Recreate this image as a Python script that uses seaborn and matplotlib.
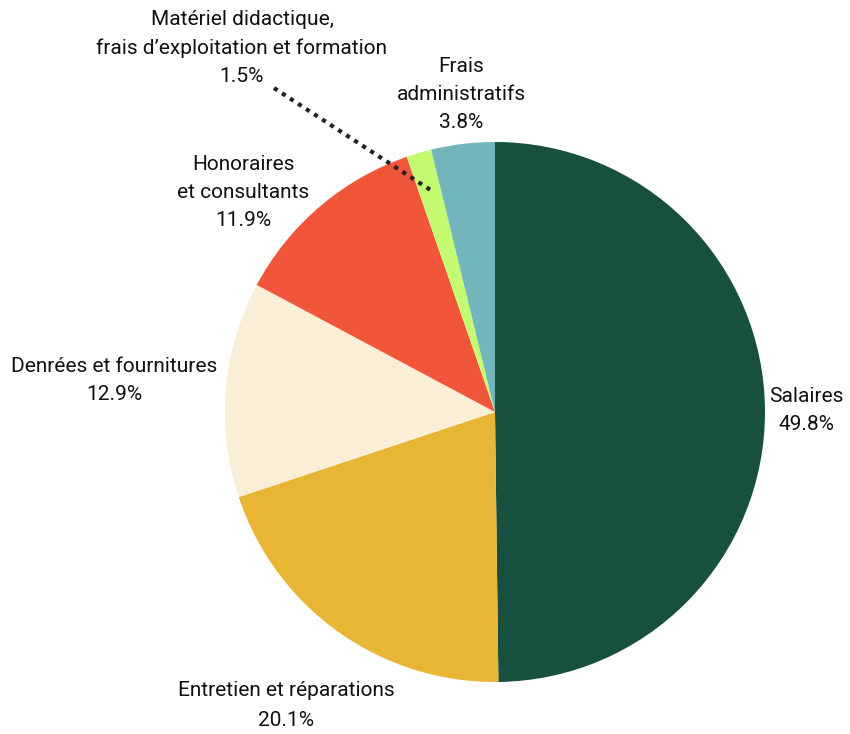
import seaborn as sns
from matplotlib import pyplot as plt

# data
categories = ['Salaires', 'Entretien et réparations', 'Denrées et fournitures',
              'Honoraires\net consultants',
              'Matériel didactique,\nfrais d\u2019exploitation et formation',
              'Frais\nadministratifs']
values = [49.8, 20.1, 12.9, 11.9, 1.5, 3.8]
colors = ['#17503E', '#E8B634', '#FAEED6', '#F1553A', '#C5FB70', '#72B5BB']

sns.set_theme(style='white')
plt.rcParams['font.family'] = ['Roboto', 'DejaVu Sans']
plt.rcParams['text.color'] = '#111111'

fig = plt.figure(figsize=(8.5, 7.34), dpi=100)
ax = fig.add_axes([0, 0, 1, 1])

H = 734
cx, cy, r = 495, H - 412, 270
ax.pie(values, colors=sns.color_palette(colors), startangle=90, counterclock=False,
       center=(cx, cy), radius=r, frame=True, wedgeprops=dict(linewidth=0))
ax.set_xlim(0, 850)
ax.set_ylim(0, 734)
ax.set_aspect('equal')
ax.axis('off')

# label positions in pixels (x, y from top)
pos = [(806, 410), (286, 690), (114, 380), (243, 192), (242, 48), (461, 94)]
fs = 15
for i, (lab, v) in enumerate(zip(categories, values)):
    x, y = pos[i]
    if i == 1:
        ax.text(x, H - y, lab, ha='center', va='center', fontsize=fs)
        ax.text(x, H - 720, f'{v}%', ha='center', va='center', fontsize=fs)
    else:
        ax.text(x, H - y, f'{lab}\n{v}%', ha='center', va='center', fontsize=fs,
                linespacing=1.6)

# dotted leader line for small slice
ax.plot([274, 432], [H - 88, H - 191], color='#222222', linestyle=(0, (1, 1.3)), linewidth=3)

plt.savefig('out.png', dpi=100)
